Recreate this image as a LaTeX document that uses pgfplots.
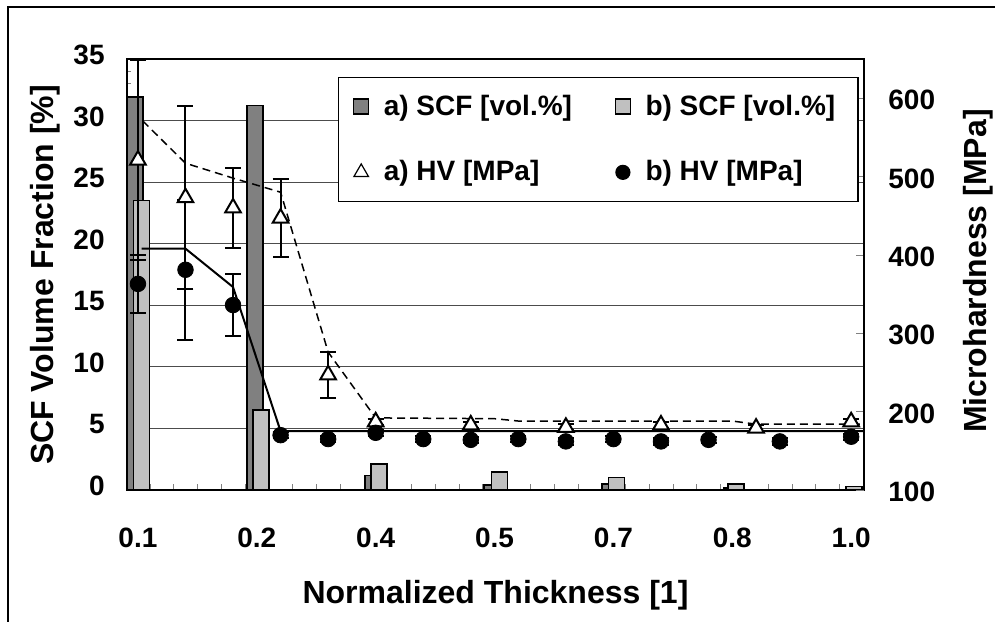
\documentclass[border=0pt]{standalone}
\usepackage{fontspec}
\setmainfont{Liberation Sans}
\usepackage{pgfplots}
\usepackage{pgfplotstable}
\pgfplotsset{compat=1.18}
\definecolor{scfA}{RGB}{128,128,128}
\definecolor{scfB}{RGB}{192,192,192}

% x positions: thickness groups at 0, 2.5, ..., 15 (HV points every 1)
\pgfplotstableread{
x y
-0.06 31.9
2.46 31.2
4.94 1.2
7.45 0.4
9.93 0.5
12.48 0.15
14.94 0.05
}\scfa
\pgfplotstableread{
x y
0.07 23.5
2.59 6.5
5.07 2.1
7.60 1.46
10.06 1.0
12.58 0.5
15.06 0.3
}\scfb
\pgfplotstableread{
x y e
0 521 128
1 473 117
2 460 51
3 447 50
4 247 29
5 187 4
7 183 4
9 180 4
11 183 4
13 179 4
15 187 4
}\hva
\pgfplotstableread{
x y e
0 363 37
1 381 89
2 336 40
3 170 4
4 165 4
5 173 4
6 165 4
7 164 4
8 165 4
9 162 4
10 165 4
11 162 4
12 164 4
13.5 162 4
15 168 4
}\hvb
\pgfplotstableread{
x y
0.1 571
1 517
2 498
3 480
4 276
5 192
7.5 191
8 188
12.5 188
13 184
15.25 184
}\trenda
\pgfplotstableread{
x y
0.08 408
1 408
2 359
3 175
15.25 175
}\trendb

\pgfplotsset{
  common/.style={
    scale only axis, width=368.5pt, height=215.5pt,
    at={(63.5pt,65.5pt)}, anchor=south west,
    xmin=-0.23, xmax=15.27,
    tick align=inside,
    tick label style={font=\fontsize{14}{16}\bfseries,
      /pgf/number format/assume math mode=true},
    label style={font=\fontsize{16}{19}\bfseries},
  },
  triLeg/.style={legend image code/.code={%
    \draw[##1, mark size=4.2pt, mark options={line width=0.6pt, fill=white}] plot coordinates {(0pt,0pt)};}},
  dotLeg/.style={legend image code/.code={%
    \draw[##1, mark size=3.5pt] plot coordinates {(0pt,0pt)};}},
  barLegA/.style={legend image code/.code={%
    \draw[fill=scfA,draw=black,line width=0.6pt] (-3.75pt,-3.75pt) rectangle (3.75pt,3.75pt);}},
  barLegB/.style={legend image code/.code={%
    \draw[fill=scfB,draw=black,line width=0.6pt] (-3.75pt,-3.75pt) rectangle (3.75pt,3.75pt);}},
}

\begin{document}
\begin{tikzpicture}
\useasboundingbox (0,0) rectangle (497.5pt,310.5pt);
\draw[line width=1.2pt] (4pt,-2pt) -- (4pt,307pt) -- (500pt,307pt);

\begin{axis}[
    common,
    ymin=0, ymax=35,
    ytick={0,5,...,35},
    minor y tick num=4,
    ytick pos=left, xtick pos=bottom,
    major tick length=3pt, minor tick length=2pt,
    xtick={0.25,0.75,...,15.25}, xticklabels={},
    extra x ticks={0,2.5,5,7.5,10,12.5,15},
    extra x tick labels={0.1,0.2,0.4,0.5,0.7,0.8,1.0},
    extra x tick style={major tick length=0pt},
    xticklabel style={anchor=center, inner sep=0pt, yshift=-24pt},
    yticklabel style={anchor=east, inner sep=0pt, xshift=-11pt, yshift=2pt},
    ymajorgrids, grid style={black!70, line width=0.5pt},
    axis line style={line width=0.8pt},
    xlabel={Normalized Thickness [1]},
    ylabel={SCF Volume Fraction [\%]},
    x label style={at={(axis description cs:0.5,-0.2436)}, anchor=center},
    y label style={at={(axis description cs:-0.111,0.499)}, anchor=center},
  ]
  \addplot[ybar, bar width=0.337, bar shift=0pt, fill=scfA, draw=black, line width=0.7pt]
    table[x=x, y=y] {\scfa};
  \addplot[ybar, bar width=0.337, bar shift=0pt, fill=scfB, draw=black, line width=0.7pt]
    table[x=x, y=y] {\scfb};
\end{axis}

\begin{axis}[
    common,
    ymin=100, ymax=650,
    ytick={100,200,...,600},
    axis y line*=right, axis x line=none,
    major tick length=4pt,
    axis line style={line width=0.8pt},
    yticklabel style={anchor=west, inner sep=0pt, xshift=12pt, yshift=-1pt},
    ylabel={Microhardness [MPa]},
    y label style={at={(axis description cs:1.1547,0.508)}, anchor=center},
    legend columns=2,
    legend cell align=left,
    legend style={at={(axis description cs:0.2863,0.9582)}, anchor=north west,
      draw=black, line width=0.6pt, fill=white,
      inner xsep=7.25pt, inner ysep=8.6pt, row sep=21.3pt,
      font=\fontsize{14}{16}\bfseries,
      nodes={inner sep=0pt},
      /tikz/every odd column/.append style={column sep=7.25pt},
      /tikz/every even column/.append style={column sep=5.5pt}},
    error bars/y dir=both, error bars/y explicit,
    error bars/error bar style={line width=1pt, black, solid},
    error bars/error mark options={rotate=90, mark size=4pt, line width=1pt, black},
  ]
  \addlegendimage{barLegA}
  \addlegendentry{\makebox[110pt][l]{a) SCF [vol.\%]}}
  \addlegendimage{barLegB}
  \addlegendentry{\makebox[99pt][l]{b) SCF [vol.\%]}}

  \addplot[black, dash pattern=on 4pt off 2.5pt, line width=0.75pt, forget plot] table[x=x, y=y] {\trenda};
  \addplot[black, line width=1pt, forget plot] table[x=x, y=y] {\trendb};

  \addplot[only marks, mark=triangle*, mark size=4.5pt,
    mark options={fill=white, draw=black, line width=1pt}, triLeg]
    table[x=x, y=y, y error=e] {\hva};
  \addlegendentry{\makebox[110pt][l]{a) HV [MPa]}}
  \addplot[only marks, mark=*, mark size=3.9pt,
    mark options={fill=black, draw=black}, dotLeg]
    table[x=x, y=y, y error=e] {\hvb};
  \addlegendentry{\makebox[99pt][l]{b) HV [MPa]}}
\end{axis}
\end{tikzpicture}
\end{document}
